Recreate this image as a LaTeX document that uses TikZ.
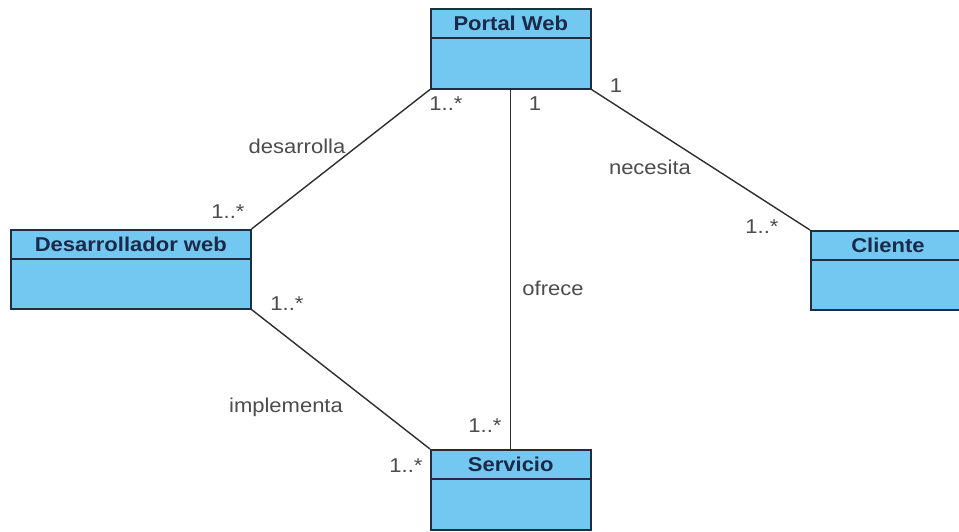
\documentclass[tikz,border=0pt]{standalone}
\usepackage{fontspec}
\usepackage{graphicx}
\setmainfont{Liberation Sans}
\definecolor{cfill}{HTML}{72C8F0}
\definecolor{cedge}{HTML}{1E2E40}
\definecolor{ctitle}{HTML}{1A2A48}
\definecolor{clabel}{HTML}{4C4C4C}
\definecolor{cline}{HTML}{2E2E2E}
\newcommand\widen[1]{\scalebox{1.1}[1]{#1}}
\begin{document}
\begin{tikzpicture}[x=1pt,y=-1pt,
  classbox/.style={draw=cedge, fill=cfill, line width=1.5pt, rectangle, inner sep=0pt, anchor=north west},
  divider/.style={draw=cedge, line width=1.5pt},
  classtitle/.style={font=\bfseries\fontsize{20}{20}\selectfont, text=ctitle, inner sep=0pt},
  lbl/.style={font=\fontsize{20}{20}\selectfont, text=clabel, inner sep=0pt},
  assoc/.style={draw=cline, line width=1.4pt}]
\useasboundingbox (0,0) rectangle (959,531);
\fill[white] (0,0) rectangle (959,531);
% classes
\node[classbox, minimum width=160pt, minimum height=80pt] (pw) at (430,8) {};
\node[classbox, minimum width=240pt, minimum height=79pt] (dw) at (10,229) {};
\node[classbox, minimum width=152pt, minimum height=79pt] (cl) at (810,230) {};
\node[classbox, minimum width=160pt, minimum height=80pt] (sv) at (430,449) {};
\foreach \c in {pw,dw,cl,sv}{
  \draw[divider] ([yshift=-30pt]\c.north west) -- ([yshift=-30pt]\c.north east);
}
\node[classtitle] (pwt) at ([yshift=-15pt]pw.north) {\widen{Portal Web}};
\node[classtitle] (dwt) at ([yshift=-15pt]dw.north) {\widen{Desarrollador web}};
\node[classtitle] (clt) at (888,245) {\widen{Cliente}};
\node[classtitle] (svt) at ([yshift=-15pt]sv.north) {\widen{Servicio}};
% associations
\draw[assoc] (pw.south west) -- (dw.north east);
\draw[assoc] (pw.south) -- (sv.north);
\draw[assoc] (pw.south east) -- (cl.north west);
\draw[assoc] (dw.south east) -- (sv.north west);
% labels
\node[lbl] (m1) at (446,104) {\widen{1..*}};
\node[lbl] (m2) at (535,104) {\widen{1}};
\node[lbl] (m3) at (616,86) {\widen{1}};
\node[lbl] (m4) at (228,212) {\widen{1..*}};
\node[lbl] (m5) at (762,227) {\widen{1..*}};
\node[lbl] (m6) at (287,304) {\widen{1..*}};
\node[lbl] (m7) at (485,426) {\widen{1..*}};
\node[lbl] (m8) at (406,466) {\widen{1..*}};
\node[lbl] (a1) at (297,146) {\widen{desarrolla}};
\node[lbl] (a2) at (650,167) {\widen{necesita}};
\node[lbl] (a3) at (553,288) {\widen{ofrece}};
\node[lbl] (a4) at (286,407) {\widen{implementa}};
\end{tikzpicture}
\end{document}
